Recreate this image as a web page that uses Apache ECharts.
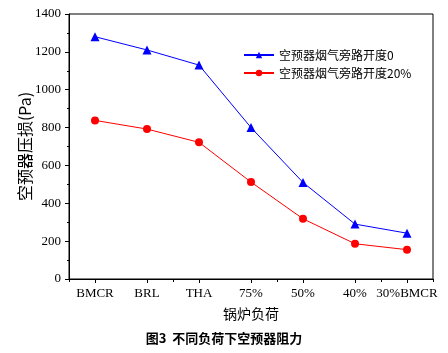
<!DOCTYPE html>
<html>
<head>
<meta charset="utf-8">
<script src="https://cdn.jsdelivr.net/npm/echarts@6/dist/echarts.min.js"></script>
<style>
  html, body { margin: 0; padding: 0; background: #fff; }
  #chart { width: 448px; height: 353px; }
</style>
</head>
<body>
<div id="chart"></div>
<script>
const LOAD_LABELS = ['BMCR', 'BRL', 'THA', '75%', '50%', '40%', '30%BMCR'];
const BYPASS_0 = [1280, 1210, 1130, 800, 510, 290, 242];
const BYPASS_20 = [838, 792, 722, 512, 318, 186, 155];
const SERIES_NAMES = ['空预器烟气旁路开度0', '空预器烟气旁路开度20%'];

const SERIF = '"Liberation Serif", "Times New Roman", serif';
const CJK = '"Noto Sans CJK SC", sans-serif';

const chart = echarts.init(document.getElementById('chart'), null, { renderer: 'canvas' });

chart.setOption({
  animation: false,
  backgroundColor: '#fff',
  title: {
    text: '图3  不同负荷下空预器阻力',
    left: 'center',
    top: 327,
    textStyle: { fontFamily: CJK, fontSize: 13, fontWeight: 'bold', color: '#000' }
  },
  grid: {
    left: 69,
    right: 15,
    top: 14,
    bottom: 74,
    show: true,
    borderColor: '#000',
    borderWidth: 1
  },
  legend: {
    orient: 'vertical',
    left: 238,
    top: 44,
    itemWidth: 30,
    itemHeight: 8,
    itemGap: 6,
    textStyle: { fontFamily: CJK, fontSize: 12, color: '#000' },
    data: SERIES_NAMES
  },
  xAxis: [{
    type: 'category',
    data: LOAD_LABELS,
    boundaryGap: true,
    name: '锅炉负荷',
    nameLocation: 'middle',
    nameGap: 28,
    nameTextStyle: { fontFamily: CJK, fontSize: 14, color: '#000' },
    axisLine: { lineStyle: { color: '#000', width: 1 } },
    axisTick: { show: true, alignWithLabel: true, length: 4, lineStyle: { color: '#000' } },
    axisLabel: { fontFamily: SERIF, fontSize: 13, color: '#000', margin: 8, interval: 0 },
    splitLine: { show: false }
  }, {
    type: 'category',
    data: LOAD_LABELS,
    position: 'bottom',
    boundaryGap: true,
    axisLine: { show: false },
    axisTick: { show: true, length: 3, lineStyle: { color: '#000' } },
    axisLabel: { show: false },
    splitLine: { show: false }
  }],
  yAxis: {
    type: 'value',
    min: 0,
    max: 1400,
    interval: 200,
    name: '空预器压损(Pa)',
    nameLocation: 'middle',
    nameGap: 36,
    nameMoveOverlap: false,
    nameTextStyle: { fontFamily: CJK, fontSize: 16, color: '#000' },
    axisLine: { show: true, lineStyle: { color: '#000', width: 1 } },
    axisTick: { show: true, length: 4, lineStyle: { color: '#000' } },
    minorTick: { show: true, splitNumber: 2, length: 2, lineStyle: { color: '#000' } },
    axisLabel: {
      fontFamily: SERIF,
      fontSize: 13,
      color: '#000',
      margin: 8,
      formatter: (v) => String(v)
    },
    splitLine: { show: false }
  },
  series: [{
    name: SERIES_NAMES[0],
    type: 'line',
    data: BYPASS_0,
    symbol: 'triangle',
    symbolSize: 9,
    color: '#0000ff',
    lineStyle: { width: 1, color: '#0000ff' },
    itemStyle: { color: '#0000ff' }
  }, {
    name: SERIES_NAMES[1],
    type: 'line',
    data: BYPASS_20,
    symbol: 'circle',
    symbolSize: 8,
    color: '#ff0000',
    lineStyle: { width: 1, color: '#ff0000' },
    itemStyle: { color: '#ff0000' }
  }]
});
</script>
</body>
</html>
